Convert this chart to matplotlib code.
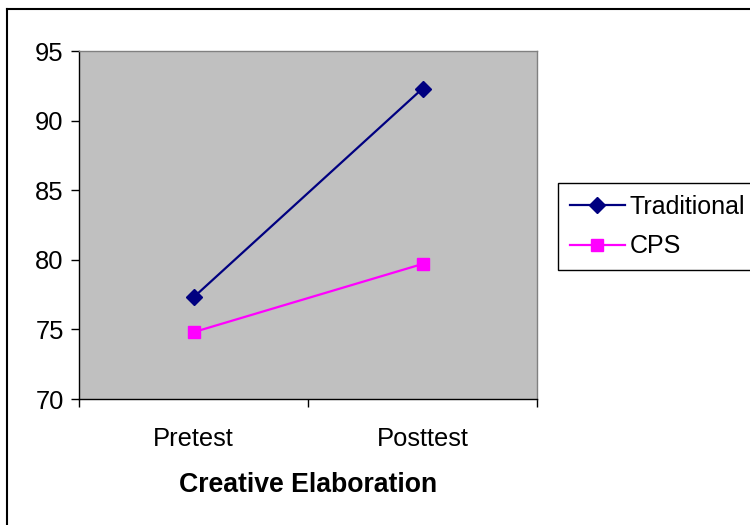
import matplotlib
matplotlib.use("Agg")
import matplotlib.pyplot as plt
from matplotlib.lines import Line2D

categories = ["Pretest", "Posttest"]
traditional = [77.3, 92.3]
cps = [74.8, 79.7]
yticks = [70, 75, 80, 85, 90, 95]

plt.rcParams['font.family'] = ['Liberation Sans', 'DejaVu Sans']

W, H = 750, 525
fig = plt.figure(figsize=(W/100, H/100), dpi=100)
ax = fig.add_axes([79/W, 1-399/H, (537-79)/W, (399-51)/H])
ax.set_facecolor('#C0C0C0')

x = list(range(len(categories)))
ax.plot(x, traditional, color='#000080', lw=1.6, marker='D', ms=8, label='Traditional')
ax.plot(x, cps, color='#FF00FF', lw=1.6, marker='s', ms=8.5, label='CPS')

ax.set_xlim(-0.5, len(categories) - 0.5)
ax.set_ylim(70, 95)
ax.set_yticks(yticks)
ax.set_xticks(x)
ax.set_xticklabels(categories)
ax.set_xticks([i - 0.5 for i in range(len(categories) + 1)], minor=True)
ax.tick_params(axis='x', which='major', length=0, pad=20, labelsize=18.4)
ax.tick_params(axis='x', which='minor', length=6, width=1, direction='out')
ax.tick_params(axis='y', length=6, width=1, pad=5, labelsize=18.4)

for s in ['left', 'bottom']:
    ax.spines[s].set_color('black')
    ax.spines[s].set_linewidth(1)
for s in ['top', 'right']:
    ax.spines[s].set_color('#808080')
    ax.spines[s].set_linewidth(1)

ax.set_xlabel('Creative Elaboration', fontsize=19.2, fontweight='bold', labelpad=15)

leg = fig.legend(loc='upper left', bbox_to_anchor=(558/W, 1-183/H), fontsize=18,
                 frameon=True, fancybox=False, edgecolor='black', framealpha=1,
                 handlelength=2.2, handletextpad=0.2, borderpad=0.47, labelspacing=0.62,
                 borderaxespad=0)
leg.get_frame().set_linewidth(1)

fig.add_artist(Line2D([7/W, 7/W], [0, 1-9/H], color='black', lw=1.5, transform=fig.transFigure))
fig.add_artist(Line2D([7/W, 1], [1-9/H, 1-9/H], color='black', lw=1.5, transform=fig.transFigure))

fig.savefig('out.png', dpi=100)
